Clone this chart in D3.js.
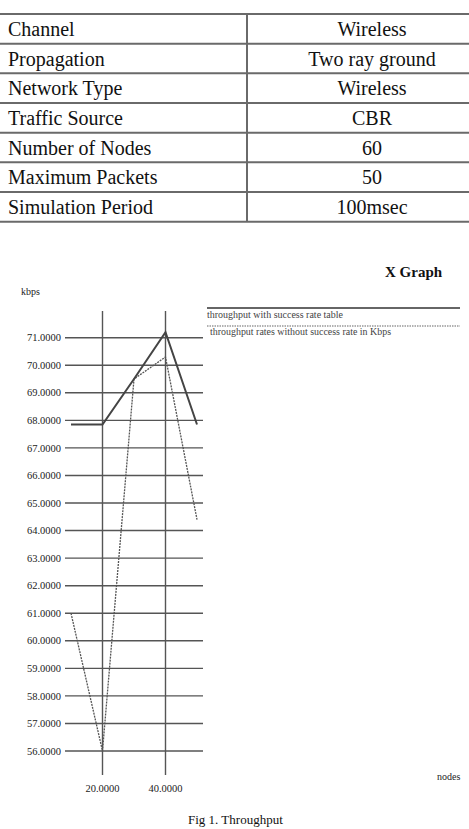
<!DOCTYPE html>
<html><head><meta charset="utf-8">
<script src="https://cdn.jsdelivr.net/npm/d3@7/dist/d3.min.js"></script>
<style>html,body{margin:0;padding:0;background:#fff;}svg{display:block;}</style>
</head><body>
<script>
// ---- data ----
const tableLabels = ["Channel","Propagation","Network Type","Traffic Source","Number of Nodes","Maximum Packets","Simulation Period"];
const tableValues = ["Wireless","Two ray ground","Wireless","CBR","60","50","100msec"];
const nodes = [10, 20, 30, 40, 50];
const withSuccess = [67.85, 67.85, 69.5, 71.2, 67.85];
const withoutSuccess = [61.0, 56.0, 69.5, 70.3, 64.4];
const yTicks = [56,57,58,59,60,61,62,63,64,65,66,67,68,69,70,71];
const xTicks = [20, 40];
const seriesNames = ["throughput with success rate table","throughput rates without success rate in Kbps"];

const W = 469, H = 829;
const svg = d3.select("body").append("svg").attr("width", W).attr("height", H);
const serif = "'Liberation Serif','Times New Roman',serif";

// ---- table ----
const tTop = 14, rowH = 29.67, divX = 247, valCX = 372;
const tg = svg.append("g");
const rows = d3.range(tableLabels.length + 1);
tg.selectAll("line.h").data(rows).join("line")
  .attr("x1", 0).attr("x2", W)
  .attr("y1", i => tTop + i * rowH).attr("y2", i => tTop + i * rowH)
  .attr("stroke", "#6a6a6a").attr("stroke-width", 2);
tg.append("line").attr("x1", divX).attr("x2", divX).attr("y1", tTop).attr("y2", tTop + tableLabels.length * rowH)
  .attr("stroke", "#6a6a6a").attr("stroke-width", 2);
tg.selectAll("text.l").data(tableLabels).join("text")
  .attr("x", 8).attr("y", (d, i) => tTop + i * rowH + 22)
  .attr("font-family", serif).attr("font-size", 20).attr("fill", "#111").text(d => d);
tg.selectAll("text.v").data(tableValues).join("text")
  .attr("x", valCX).attr("y", (d, i) => tTop + i * rowH + 22).attr("text-anchor", "middle")
  .attr("font-family", serif).attr("font-size", 20).attr("fill", "#111").text(d => d);

// ---- chart ----
const x = d3.scaleLinear().domain([10, 50]).range([71, 197]);
const y = d3.scaleLinear().domain([56, 71]).range([751, 337.7]);
const g = svg.append("g");

// horizontal grid
g.selectAll("line.hg").data(yTicks).join("line")
  .attr("x1", 65).attr("x2", 203).attr("y1", d => y(d)).attr("y2", d => y(d))
  .attr("stroke", "#555").attr("stroke-width", 1.4);
// vertical grid
g.selectAll("line.vg").data(xTicks).join("line")
  .attr("x1", d => x(d)).attr("x2", d => x(d)).attr("y1", 311).attr("y2", 775)
  .attr("stroke", "#555").attr("stroke-width", 1.4);

// y labels
g.selectAll("text.yl").data(yTicks).join("text")
  .attr("x", 61).attr("y", d => y(d)).attr("dy", "0.35em").attr("text-anchor", "end")
  .attr("font-family", serif).attr("font-size", 10.5).attr("fill", "#222")
  .text(d => d.toFixed(4));
// x labels
g.selectAll("text.xl").data(xTicks).join("text")
  .attr("x", d => x(d)).attr("y", 792).attr("text-anchor", "middle")
  .attr("font-family", serif).attr("font-size", 10.5).attr("fill", "#222")
  .text(d => d.toFixed(4));

// axis titles
svg.append("text").attr("x", 21).attr("y", 295).attr("font-family", serif).attr("font-size", 10)
  .attr("fill", "#222").text("kbps");
svg.append("text").attr("x", 437).attr("y", 780).attr("font-family", serif).attr("font-size", 10)
  .attr("fill", "#222").text("nodes");
svg.append("text").attr("x", 385).attr("y", 277).attr("font-family", serif).attr("font-size", 15)
  .attr("font-weight", "bold").attr("fill", "#111").text("X Graph");

// series
const line = d3.line().x((d, i) => x(nodes[i])).y(d => y(d));
g.append("path").datum(withoutSuccess).attr("d", line).attr("fill", "none")
  .attr("stroke", "#555").attr("stroke-width", 1.3).attr("stroke-dasharray", "2,1");
g.append("path").datum(withSuccess).attr("d", line).attr("fill", "none")
  .attr("stroke", "#444").attr("stroke-width", 2);

// legend
svg.append("line").attr("x1", 207).attr("x2", 460).attr("y1", 308).attr("y2", 308)
  .attr("stroke", "#666").attr("stroke-width", 2);
svg.append("text").attr("x", 207).attr("y", 318).attr("font-family", serif).attr("font-size", 11)
  .attr("fill", "#444").attr("textLength", 136).attr("lengthAdjust", "spacingAndGlyphs").text(seriesNames[0]);
svg.append("line").attr("x1", 207).attr("x2", 460).attr("y1", 326).attr("y2", 326)
  .attr("stroke", "#666").attr("stroke-width", 1.2).attr("stroke-dasharray", "1.5,1");
svg.append("text").attr("x", 210).attr("y", 335).attr("font-family", serif).attr("font-size", 11)
  .attr("fill", "#444").attr("textLength", 181).attr("lengthAdjust", "spacingAndGlyphs").text(seriesNames[1]);

// caption
svg.append("text").attr("x", 188).attr("y", 824).attr("font-family", serif).attr("font-size", 13)
  .attr("fill", "#111").text("Fig 1. Throughput");
</script>
</body></html>
